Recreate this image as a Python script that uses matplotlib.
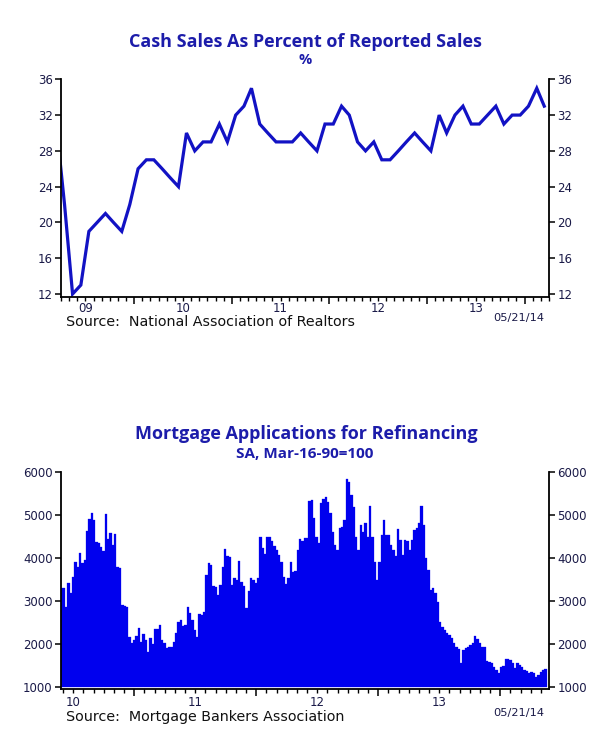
import matplotlib
matplotlib.use("Agg")
import matplotlib.pyplot as plt
import matplotlib.transforms as mtransforms
import numpy as np
import pandas as pd

# ---------------- data ----------------
# Cash sales as % of reported sales, monthly, Mar-2009 .. Mar-2014
cash_start = "2009-03-01"
cash_pct = [31, 22, 12, 13, 19, 20, 21, 20, 19, 22,
            26, 27, 27, 26, 25, 24, 30, 28, 29, 29, 31, 29,
            32, 33, 35, 31, 30, 29, 29, 29, 30, 29, 28, 31,
            31, 33, 32, 29, 28, 29, 27, 27, 28, 29, 30, 29,
            28, 32, 30, 32, 33, 31, 31, 32, 33, 31, 32, 32,
            33, 35, 33]

# MBA refinance index, weekly, ending week of 2014-05-16
refi_end = "2014-05-16"
refi_index = [3300, 3300, 2870, 3430, 3180, 3570, 3900, 3800, 4120, 3880, 3950,
              4630, 4900, 5050, 4880, 4380, 4340, 4260, 4160, 5010, 4430, 4570,
              4300, 4550, 3800, 3760, 2920, 2890, 2870, 2170, 2020, 2100, 2190,
              2370, 2060, 2240, 2100, 1830, 2140, 2010, 2350, 2360, 2440,
              2100, 2035, 1905, 1930, 1945, 2045, 2250, 2520, 2560, 2420, 2445,
              2870, 2715, 2560, 2330, 2175, 2700, 2680, 2755, 3605, 3875, 3835,
              3350, 3335, 3140, 3370, 3800, 4200, 4045, 4030, 3370, 3530, 3490,
              3940, 3450, 3350, 2830, 3240, 3530, 3490, 3430, 3530, 4480,
              4220, 4090, 4480, 4495, 4400, 4280, 4185, 4070, 3915, 3565, 3395,
              3530, 3915, 3680, 3700, 4185, 4430, 4400, 4455, 4455, 5330, 5345,
              4920, 4495, 4340, 5265, 5370, 5405, 5305, 5035, 4610, 4300, 4185,
              4690, 4725, 4880, 5825, 5770, 5460, 5190, 4495, 4185, 4765,
              4610, 4820, 4495, 5205, 4495, 3915, 3490, 3915, 4530, 4880, 4530,
              4530, 4300, 4185, 4045, 4665, 4415, 4070, 4415, 4400, 4185, 4415,
              4650, 4690, 4800, 5205, 4765, 3990, 3720, 3255, 3295, 3180, 2985,
              2520, 2405, 2330, 2270, 2215, 2135, 2020, 1945, 1890, 1555,
              1865, 1905, 1945, 1980, 2020, 2190, 2110, 2035, 1945, 1930, 1620,
              1595, 1555, 1480, 1400, 1325, 1480, 1495, 1655, 1650, 1635, 1555,
              1440, 1570, 1520, 1480, 1400, 1380, 1325, 1365, 1340, 1250, 1285,
              1365, 1400, 1415]

top_years = [2009, 2010, 2011, 2012, 2013]
bot_years = [2010, 2011, 2012, 2013]
top_yticks = [12, 16, 20, 24, 28, 32, 36]
bot_yticks = [1000, 2000, 3000, 4000, 5000, 6000]

top_title = "Cash Sales As Percent of Reported Sales"
top_sub = "%"
top_source = "Source:  National Association of Realtors"
bot_title = "Mortgage Applications for Refinancing"
bot_sub = "SA, Mar-16-90=100"
bot_source = "Source:  Mortgage Bankers Association"
stamp = "05/21/14"


def frac_year(dates):
    d = pd.DatetimeIndex(dates)
    ndays = np.where(d.is_leap_year, 366.0, 365.0)
    return d.year + (d.dayofyear - 1 + 0.5) / ndays


cash_dates = pd.date_range(cash_start, periods=len(cash_pct), freq="MS") + pd.Timedelta(days=14)
cash_x = frac_year(cash_dates)
refi_dates = pd.date_range(end=refi_end, periods=len(refi_index), freq="7D")
refi_x = frac_year(refi_dates)

# ---------------- style ----------------
W, H = 605, 745
fig = plt.figure(figsize=(W / 100, H / 100), dpi=100)
fig.patch.set_facecolor("white")

title_col = "#1c1caa"
tick_col = "#1a1a48"
line_col = "#1212c4"
bar_col = "#0000ee"
title_font = ["Open Sans", "DejaVu Sans"]


def fx(px):
    return px / W


def fy(py):
    return 1 - py / H


def style_axes(ax, xlim, years, yticks, ylim, label_y):
    ax.set_xlim(*xlim)
    ax.set_ylim(*ylim)
    ax.spines["top"].set_visible(False)
    for s in ["left", "right", "bottom"]:
        ax.spines[s].set_linewidth(1.3)
        ax.spines[s].set_color("black")
    ax.set_yticks(yticks)
    ax.tick_params(axis="y", which="both", left=True, right=True, labelleft=True,
                   labelright=True, direction="out", length=4.5, width=1.1,
                   pad=1.5, labelsize=8.5, labelcolor=tick_col)
    # year boundaries as major ticks, months as minor ticks
    bounds = [y for y in range(int(np.floor(xlim[0])), int(np.ceil(xlim[1])) + 1)
              if xlim[0] <= y <= xlim[1]]
    months = [y + m / 12 for y in range(int(np.floor(xlim[0])), int(np.ceil(xlim[1])) + 1)
              for m in range(1, 12) if xlim[0] <= y + m / 12 <= xlim[1]]
    ax.set_xticks(bounds)
    ax.set_xticks(months, minor=True)
    ax.set_xticklabels([])
    ax.tick_params(axis="x", which="major", direction="out", length=5, width=1.1)
    ax.tick_params(axis="x", which="minor", direction="out", length=3, width=1.0)
    trans = mtransforms.blended_transform_factory(ax.transData, fig.transFigure)
    for y in years:
        ax.text(y + 0.5, fy(label_y), f"{y % 100:02d}", transform=trans, ha="center",
                va="center", fontsize=8.5, color=tick_col)


# ---------------- top chart ----------------
ax1 = fig.add_axes([fx(61), fy(296.5), fx(549) - fx(61), fy(79.3) - fy(296.5)])
ax1.plot(cash_x, cash_pct, color=line_col, lw=2.3, solid_joinstyle="miter", clip_on=True)
style_axes(ax1, (2009.25, 2014.25), top_years, top_yticks, (11.72, 36.0), 308.5)

fig.text(fx(305), fy(42), top_title, ha="center", va="center", fontsize=13,
         fontweight="bold", color=title_col, family=title_font)
fig.text(fx(305), fy(60), top_sub, ha="center", va="center", fontsize=10.5,
         fontweight="bold", color=title_col, family=title_font)
fig.text(fx(66), fy(322.5), top_source, ha="left", va="center", fontsize=10.3, color="#111111")
fig.text(fx(544), fy(318), stamp, ha="right", va="center", fontsize=8.2, color=tick_col)

# ---------------- bottom chart ----------------
ax2 = fig.add_axes([fx(61), fy(689), fx(549) - fx(61), fy(471.7) - fy(689)])
ax2.bar(refi_x, np.array(refi_index) - 1000, bottom=1000, width=7 / 365.25,
        color=bar_col, edgecolor=bar_col, linewidth=0.2, align="center")
style_axes(ax2, (2010.40, 2014.40), bot_years, bot_yticks, (962, 6000), 702.5)

fig.text(fx(306), fy(434), bot_title, ha="center", va="center", fontsize=13,
         fontweight="bold", color=title_col, family=title_font)
fig.text(fx(305), fy(454), bot_sub, ha="center", va="center", fontsize=11,
         fontweight="bold", color=title_col, family=title_font)
fig.text(fx(66), fy(716.5), bot_source, ha="left", va="center", fontsize=10.3, color="#111111")
fig.text(fx(544), fy(713), stamp, ha="right", va="center", fontsize=8.2, color=tick_col)

fig.savefig("out.png", dpi=100, facecolor="white")
